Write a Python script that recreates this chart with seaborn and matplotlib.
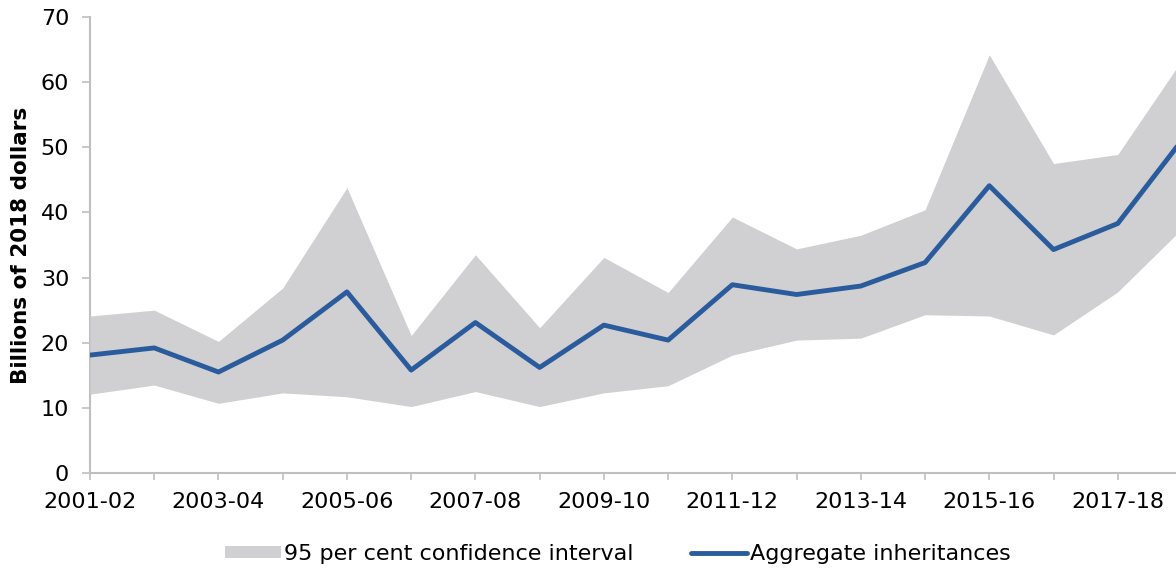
import numpy as np
import pandas as pd
import matplotlib
matplotlib.use("Agg")
import matplotlib.pyplot as plt
import seaborn as sns
from matplotlib.patches import Patch
from matplotlib.lines import Line2D

years = ["2001-02", "2002-03", "2003-04", "2004-05", "2005-06", "2006-07",
         "2007-08", "2008-09", "2009-10", "2010-11", "2011-12", "2012-13",
         "2013-14", "2014-15", "2015-16", "2016-17", "2017-18", "2018-19"]
aggregate = [18.1, 19.2, 15.5, 20.4, 27.8, 15.8, 23.1, 16.2, 22.7, 20.4,
             28.9, 27.4, 28.7, 32.3, 44.1, 34.3, 38.3, 51.1]
upper = [24.1, 25.0, 20.2, 28.4, 43.8, 21.1, 33.5, 22.3, 33.1, 27.7,
         39.3, 34.4, 36.5, 40.4, 64.2, 47.5, 48.9, 63.4]
lower = [12.1, 13.5, 10.7, 12.3, 11.7, 10.2, 12.5, 10.2, 12.3, 13.4,
         18.1, 20.4, 20.7, 24.3, 24.1, 21.2, 27.8, 37.5]

sns.set_style("white")
plt.rcParams["font.family"] = ["DejaVu Sans"]
plt.rcParams["text.color"] = "black"
plt.rcParams["axes.labelcolor"] = "black"

W, H = 1176, 571
fig = plt.figure(figsize=(W / 100, H / 100), dpi=100)
ax = fig.add_axes([90 / W, 1 - 473 / H, 1092 / W, 456 / H])

df = pd.DataFrame({"idx": np.arange(len(years)), "value": aggregate,
                   "upper": upper, "lower": lower})

fill_color = "#D0CFD1"
line_color = "#2A5B9C"

ax.fill_between(df["idx"], df["lower"], df["upper"], color=fill_color, linewidth=0, zorder=1)
sns.lineplot(data=df, x="idx", y="value", ax=ax, color=line_color, linewidth=3.5,
             zorder=3, legend=False)

ax.set_xlim(0, len(years) - 1)
ax.set_ylim(0, 70)
ax.set_yticks(range(0, 71, 10))
ax.set_xticks(range(len(years)))
ax.set_xticklabels([y if i % 2 == 0 else "" for i, y in enumerate(years)])

ax.set_xlabel("")
ax.set_ylabel("Billions of 2018 dollars", fontsize=15.5, fontweight="bold", labelpad=7)

spine_color = "#BFBFBF"
for s in ["top", "right"]:
    ax.spines[s].set_visible(False)
for s in ["left", "bottom"]:
    ax.spines[s].set_color(spine_color)
    ax.spines[s].set_linewidth(1.5)
    ax.spines[s].set_zorder(0)

ax.tick_params(axis="both", which="both", colors=spine_color, labelcolor="black",
               labelsize=16, width=1.2)
ax.tick_params(axis="y", length=6, pad=9, direction="out", left=True)
ax.tick_params(axis="x", length=5, pad=9, direction="out", bottom=True)

handles = [Patch(facecolor=fill_color, edgecolor="none"),
           Line2D([0], [0], color=line_color, linewidth=3.5)]
labels = ["95 per cent confidence interval", "Aggregate inheritances"]
fig.legend(handles, labels, loc="center", bbox_to_anchor=(618 / W, 1 - 554 / H),
           ncol=2, frameon=False, fontsize=16, handlelength=2.5, handletextpad=0.15,
           columnspacing=2.6, handleheight=0.5, labelcolor="black")

fig.savefig("out.png", dpi=100)
